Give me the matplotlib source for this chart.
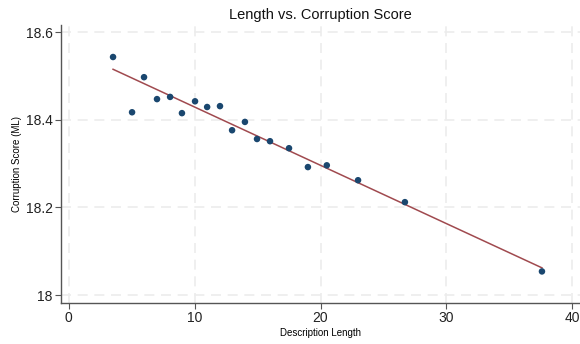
import matplotlib
matplotlib.use("Agg")
import matplotlib.pyplot as plt
import numpy as np

plt.rcParams['font.family'] = ['Liberation Sans', 'DejaVu Sans']

# Binned means: description length vs. corruption score
desc_len = [3.53, 5.04, 5.99, 7.02, 8.06, 9.0, 10.04, 11.0, 12.02, 12.98,
            14.0, 14.96, 15.99, 17.5, 19.0, 20.5, 22.98, 26.7, 37.58]
score = [18.543, 18.417, 18.497, 18.447, 18.452, 18.415, 18.442, 18.429,
         18.431, 18.376, 18.395, 18.356, 18.351, 18.335, 18.292, 18.296,
         18.262, 18.212, 18.054]

# linear fit estimated on the underlying (unbinned) data
fit_intercept = 18.562
fit_slope = -0.0133

xticks = [0, 10, 20, 30, 40]
yticks = [18, 18.2, 18.4, 18.6]
ytick_labels = ['18', '18.2', '18.4', '18.6']

x = np.array(desc_len)
y = np.array(score)
xf = np.array([x.min(), x.max()])

fig = plt.figure(figsize=(5.8, 3.44), dpi=100)
ax = fig.add_axes([0.1052, 0.1192, 0.8948, 0.8081])

for v in xticks:
    ax.axvline(v, color='#ececec', lw=1.2, ls=(0, (6, 4)), zorder=0)
for v in yticks:
    ax.axhline(v, color='#ececec', lw=1.2, ls=(0, (6, 4)), zorder=0)

ax.plot(xf, fit_intercept + fit_slope * xf, color='#a04a4f', lw=1.1, zorder=2)
ax.scatter(x, y, s=22, color='#1a476f', edgecolors='none', zorder=3)

ax.set_xlim(-0.6, 40.6)
ax.set_ylim(17.982, 18.616)
ax.set_xticks(xticks)
ax.set_yticks(yticks)
ax.set_yticklabels(ytick_labels)

for s in ['top', 'right']:
    ax.spines[s].set_visible(False)
for s in ['left', 'bottom']:
    ax.spines[s].set_color('#555555')
    ax.spines[s].set_linewidth(1.0)
ax.tick_params(direction='out', length=4, width=0.8, color='#555555',
               labelsize=10, labelcolor='#222222', pad=2)

ax.set_title('Length vs. Corruption Score', fontsize=10.5, color='#111111', pad=4)
ax.set_xlabel('Description Length', fontsize=7, labelpad=2)
ax.set_ylabel('Corruption Score (ML)', fontsize=7, labelpad=3)

fig.savefig('out.png', dpi=100)
